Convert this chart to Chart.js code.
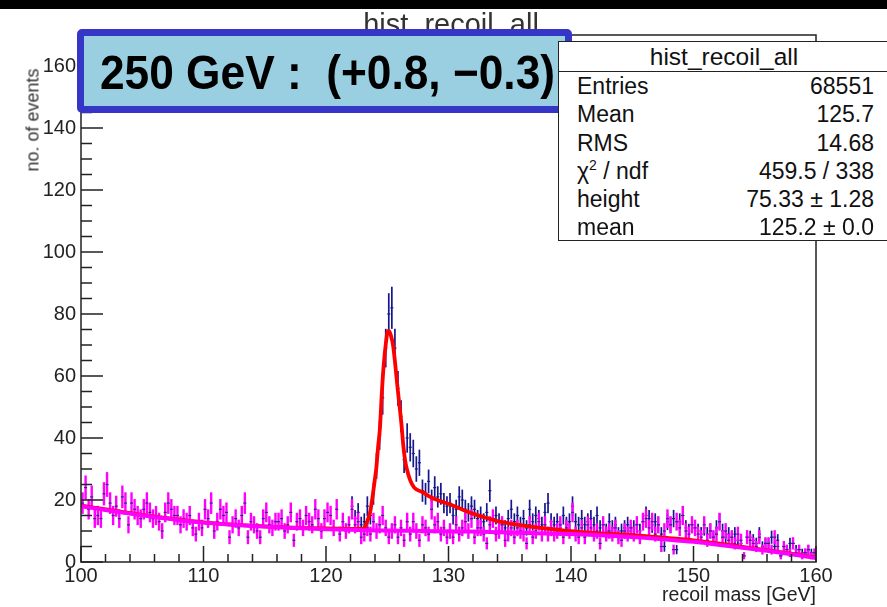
<!DOCTYPE html>
<html>
<head>
<meta charset="utf-8">
<script src="https://cdn.jsdelivr.net/npm/chart.js@4.4.1/dist/chart.umd.min.js"></script>
<style>
html, body { margin: 0; padding: 0; background: #fff; }
#wrap { position: relative; width: 887px; height: 607px; overflow: hidden; font-family: "Liberation Sans", Arial, sans-serif; color: #111; }
#chart { position: absolute; left: 0; top: 0; }
#topbar { position: absolute; left: 0; top: 0; width: 887px; height: 9px; background: #000; }
#title { position: absolute; left: 301px; width: 300px; top: 8px; text-align: center; font-size: 29px; color: #333; }
#ytitle { position: absolute; left: 33px; top: 120px; transform: translate(-50%, -50%) rotate(-90deg); font-size: 18px; white-space: nowrap; color: #333; }
#note { position: absolute; left: 77px; top: 29px; width: 481px; height: 70px; border: 7px solid #3535c8; border-radius: 5px; background: #99cfe0; }
#note span { position: absolute; left: 16px; top: 13px; font-weight: bold; font-size: 48px; line-height: 1; white-space: nowrap; transform-origin: 0 0; color: #000; }
#stats { position: absolute; left: 558px; top: 41px; width: 340px; height: 198px; border: 1.5px solid #222; background: #fff; font-size: 23px; }
#stats .head { height: 29px; border-bottom: 1.5px solid #222; text-align: center; line-height: 29px; width: 330px; font-size: 24.5px; }
#stats .row { position: relative; height: 28.3px; line-height: 28.3px; }
#stats .row b { font-weight: normal; position: absolute; left: 18px; }
#stats .row i { font-style: normal; position: absolute; right: 25px; }
sup { font-size: 14px; line-height: 0; }
</style>
</head>
<body>
<div id="wrap">
  <canvas id="chart" width="887" height="607"></canvas>
  <div id="title">hist_recoil_all</div>
  <div id="topbar"></div>
  <div id="ytitle">no. of events</div>
  <div id="note"><span id="noteText">250 GeV :&nbsp;&nbsp;(+0.8, &minus;0.3)</span></div>
  <div id="stats">
    <div class="head">hist_recoil_all</div>
    <div class="row"><b>Entries</b><i>68551</i></div>
    <div class="row"><b>Mean</b><i>125.7</i></div>
    <div class="row"><b>RMS</b><i>14.68</i></div>
    <div class="row"><b>&chi;<sup>2</sup> / ndf</b><i>459.5 / 338</i></div>
    <div class="row"><b>height</b><i>75.33 &plusmn; 1.28</i></div>
    <div class="row"><b>mean</b><i>125.2 &plusmn; 0.0</i></div>
  </div>
</div>
<script>
// binning of the histograms (GeV)
const BIN_LO = 100;
const BIN_W = 0.25;
const ALL_LO = 122; // first bin shown for the full sample

// weighted histograms: error bar = k * sqrt(content)
const ALL_ERR_K = 0.75;
const BG_ERR_K = 0.8;

const xTickLabels = [100, 110, 120, 130, 140, 150, 160];
const yTickLabels = [0, 20, 40, 60, 80, 100, 120, 140, 160];

// background-only histogram (magenta), 100 - 160 GeV
const bgCounts = [
  19, 24, 17, 21,  14, 15, 14, 22,  25, 19, 15, 18,  14, 21, 19, 12,  19, 17, 15, 14,
  17, 19, 16, 14,  15, 13, 10, 16,  19, 17, 15, 15,  12, 14, 13, 15,  11, 9, 13, 11,
  17, 14, 19, 10,  13, 17, 15, 16,  8, 12, 14, 11,  15, 19, 8, 13,  12, 10, 8, 14,
  16, 12, 11, 13,  13, 14, 10, 12,  16, 7, 13, 14,  11, 15, 13, 12,  17, 14, 10, 14,
  16, 15, 11, 17,  9, 13, 10, 12,  17, 12, 13, 8,  9, 11, 9, 13,  10, 12, 15, 11,
  8, 10, 12, 8,  11, 7, 13, 9,  13, 10, 7, 12,  11, 9, 17, 12,  13, 9, 11, 8,
  10, 8, 12, 9,  11, 13, 10, 14,  8, 11, 11, 9,  6, 12, 14, 9,  10, 12, 7, 9,
  11, 8, 11, 10,  9, 6, 12, 8,  10, 13, 9, 12,  9, 11, 9, 10,  12, 8, 11, 10,
  16, 9, 8, 11,  8, 12, 11, 9,  10, 6, 12, 9,  10, 9, 11, 8,  7, 10, 9, 11,
  9, 12, 8, 13,  14, 11, 13, 9,  12, 5, 10, 14,  12, 4, 13, 11,  15, 10, 9, 12,
  11, 9, 8, 12,  7, 10, 8, 9,  13, 8, 10, 7,  8, 6, 9, 7,  2, 8, 7, 6,
  5, 8, 4, 6,  6, 4, 8, 5,  2, 5, 4, 3,  6, 3, 4, 2,  3, 4, 2, 3
];

// full sample histogram (blue), 122 - 160 GeV
const allCounts = [
  18, 14, 16, 12,  13, 18, 15, 22,  31, 41, 53, 69,  80, 82, 69, 56,  47, 33, 40, 37,
  35, 30, 32, 23,  22, 26, 20, 24,  21, 22, 19, 18,  19, 15, 17, 21,  20, 17, 16, 18,
  17, 14, 15, 13,  16, 23, 14, 15,  13, 12, 11, 14,  17, 13, 15, 12,  14, 11, 17, 13,
  15, 14, 12, 16,  19, 13, 12, 13,  11, 15, 12, 13,  18, 13, 12, 14,  12, 13, 14, 12,
  15, 11, 12, 10,  13, 11, 12, 9,  10, 11, 12, 10,  11, 12, 10, 13,  15, 14, 12, 13,
  12, 9, 5, 13,  12, 14, 4, 13,  15, 11, 10, 12,  11, 10, 9, 11,  9, 10, 8, 11,
  13, 10, 8, 9,  8, 9, 7, 6,  2, 8, 8, 7,  6, 9, 5, 6,  6, 8, 5, 7,
  2, 5, 4, 6,  6, 4, 4, 3,  3, 4, 3, 2
];

// signal + background fit (red)
const fitX = [100, 105, 110, 115, 120, 122, 123, 123.2, 123.4, 123.6, 123.8, 124.0, 124.1, 124.25, 124.4,
  124.55, 124.7, 124.9, 125.05, 125.15, 125.3, 125.47, 125.62, 125.77, 125.9, 126.04, 126.17, 126.3,
  126.45, 126.6, 126.86, 127.2, 127.9, 128.5, 129.2, 130.1, 131.2, 132.3, 133.3, 134.2, 135.3, 136.4,
  138, 139.7, 142.4, 145, 148, 150, 152, 154, 156, 158, 160];
const fitY = [18.2, 15.2, 12.8, 11.5, 10.8, 10.7, 10.8, 11.5, 13.5, 16, 21, 27, 30, 37, 43,
  54, 63, 71, 74.5, 74.5, 73, 70, 65, 59, 54, 49, 44, 38,
  33, 30, 26.5, 24, 22.5, 21, 19.8, 18.6, 16.8, 15.2, 14, 13, 12.2, 11.6,
  10.8, 10, 9.2, 8.7, 7.7, 7.0, 6.0, 4.9, 3.8, 2.7, 1.5];

// background-only fit (magenta)
const bgFitX = [100, 102, 104, 106, 108, 110, 112, 114, 116, 118, 120, 122, 124, 126, 128, 130,
  132, 134, 136, 138, 140, 142, 144, 146, 148, 150, 152, 154, 156, 158, 160];
const bgFitY = [18, 16.8, 15.6, 14.5, 13.5, 12.7, 12.1, 11.6, 11.2, 10.9, 10.6, 10.4, 10.2, 10.1, 10, 9.9,
  9.8, 9.6, 9.4, 9.2, 9, 8.7, 8.3, 7.8, 7.2, 6.5, 5.6, 4.6, 3.6, 2.5, 1.3];

function histPoints(counts, lo) {
  return counts.map((v, i) => ({ x: lo + BIN_W * (i + 0.5), y: v }));
}
function curve(xs, ys) {
  return xs.map((x, i) => ({ x: x, y: ys[i] }));
}

// error bars and bin-width markers, drawn from the point positions
function drawErrors(chart, dsIndex, k, color, width, markColor) {
  const ctx = chart.ctx;
  const ys = chart.scales.y;
  const xs = chart.scales.x;
  const meta = chart.getDatasetMeta(dsIndex);
  const data = chart.data.datasets[dsIndex].data;
  const half = Math.abs(xs.getPixelForValue(BIN_W) - xs.getPixelForValue(0)) / 2;
  const a = chart.chartArea;
  ctx.save();
  ctx.beginPath();
  ctx.rect(a.left, a.top, a.right - a.left, a.bottom - a.top);
  ctx.clip();
  meta.data.forEach((pt, i) => {
    const v = data[i].y;
    const e = k * Math.sqrt(v);
    ctx.strokeStyle = color;
    ctx.lineWidth = width;
    ctx.beginPath();
    ctx.moveTo(pt.x, ys.getPixelForValue(v + e));
    ctx.lineTo(pt.x, ys.getPixelForValue(v - e));
    ctx.stroke();
    ctx.strokeStyle = markColor;
    ctx.lineWidth = 1.2;
    ctx.beginPath();
    ctx.moveTo(pt.x - half, pt.y);
    ctx.lineTo(pt.x + half, pt.y);
    ctx.stroke();
  });
  ctx.restore();
}

const rootStyle = {
  id: 'rootStyle',
  beforeDatasetsDraw(chart) {
    drawErrors(chart, 2, ALL_ERR_K, '#16168f', 1.7, '#16168f');
    drawErrors(chart, 3, BG_ERR_K, '#ff00ff', 2.4, '#2a2a80');
  },
  afterDatasetsDraw(chart) {
    const ctx = chart.ctx;
    const a = chart.chartArea;
    const xs = chart.scales.x;
    const ys = chart.scales.y;
    ctx.save();
    ctx.strokeStyle = '#222';
    ctx.lineWidth = 1.5;
    ctx.strokeRect(a.left, a.top, a.right - a.left, a.bottom - a.top);
    ctx.beginPath();
    for (let v = 100; v <= 160; v += 2) {
      const px = xs.getPixelForValue(v);
      const len = (v % 10 === 0) ? 16 : 8;
      ctx.moveTo(px, a.bottom);
      ctx.lineTo(px, a.bottom - len);
    }
    for (let v = 0; v <= 170; v += 5) {
      const py = ys.getPixelForValue(v);
      const len = (v % 20 === 0) ? 22 : 11;
      ctx.moveTo(a.left, py);
      ctx.lineTo(a.left + len, py);
    }
    ctx.stroke();
    ctx.restore();
  }
};

new Chart(document.getElementById('chart'), {
  type: 'scatter',
  data: {
    datasets: [
      { data: curve(bgFitX, bgFitY), showLine: true, borderColor: '#ff00ff', borderWidth: 4, pointRadius: 0, cubicInterpolationMode: 'monotone' },
      { data: curve(fitX, fitY), showLine: true, borderColor: '#ff0000', borderWidth: 3.8, pointRadius: 0, cubicInterpolationMode: 'monotone' },
      { data: histPoints(allCounts, ALL_LO), showLine: false, pointRadius: 0 },
      { data: histPoints(bgCounts, BIN_LO), showLine: false, pointRadius: 0 }
    ]
  },
  options: {
    responsive: false,
    animation: false,
    events: [],
    layout: { padding: { top: 35, right: 71, left: 0, bottom: 0 } },
    plugins: { legend: { display: false }, tooltip: { enabled: false } },
    scales: {
      x: {
        type: 'linear', min: 100, max: 160,
        afterBuildTicks: s => { s.ticks = xTickLabels.map(v => ({ value: v })); },
        afterFit: s => { s.height = 45; },
        grid: { display: false, drawTicks: false },
        border: { display: false },
        ticks: { font: { family: 'Liberation Sans', size: 20 }, color: '#222', padding: 2, maxRotation: 0 },
        title: { display: true, text: 'recoil mass [GeV]', align: 'end', color: '#222', font: { family: 'Liberation Sans', size: 19.5 }, padding: { top: 0, bottom: 0 } }
      },
      y: {
        type: 'linear', min: 0, max: 170,
        afterBuildTicks: s => { s.ticks = yTickLabels.map(v => ({ value: v })); },
        afterFit: s => { s.width = 81; },
        grid: { display: false, drawTicks: false },
        border: { display: false },
        ticks: { font: { family: 'Liberation Sans', size: 20 }, color: '#222', padding: 5 }
      }
    }
  },
  plugins: [rootStyle]
});

// squeeze the annotation text to the reference width
const nt = document.getElementById('noteText');
nt.style.transform = 'scaleX(' + (455 / nt.getBoundingClientRect().width) + ')';
</script>
</body>
</html>
